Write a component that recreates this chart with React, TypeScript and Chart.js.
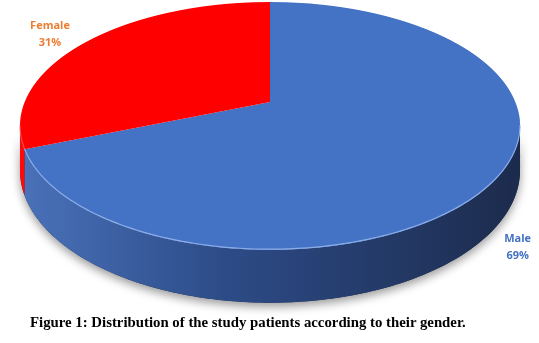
import React, { useEffect, useRef } from 'react';
import { Chart, registerables } from 'chart.js';

Chart.register(...registerables);

const categories = ['Male', 'Female'];
const percentages = [69, 31];
const sliceColors = ['#4472C4', '#FF0000'];
const sideStops = [
  ['#4a72ba', '#2d4c88', '#1c2b4c'],
  ['#ff0a0a', '#ee0000', '#c80000'],
];
const edgeColors = ['rgba(150,182,238,0.85)', 'rgba(255,110,110,0.6)'];
const labelColors = ['#4472C4', '#ED7D31'];
const labelOffsets = [
  [20, 22],
  [-37, -7],
];
const caption = 'Figure 1: Distribution of the study patients according to their gender.';

const W = 539;
const H = 343;

// perspective projection of the pie's top face
const CX = 270;
const CY = 102;
const PA = 245.3;
const PB = 119.35;
const PK = 0.1935;
const D0 = 42.5;

const wOf = (v: number) => 1 - PK * v;
const proj = (u: number, v: number): [number, number] => {
  const w = wOf(v);
  return [CX + (PA * u) / w, CY + (PB * v) / w];
};
const invV = (y: number) => {
  const t = y - CY;
  return t / (PB + PK * t);
};

const pie3d = {
  id: 'pie3d',
  beforeDatasetsDraw(chart: any) {
    const ctx = chart.ctx as CanvasRenderingContext2D;
    const meta = chart.getDatasetMeta(0);
    const arcs = meta.data as any[];
    if (!arcs.length) return false;
    const { x: px, y: py, outerRadius: r } = arcs[0];

    const th0 = Math.asin(PK);
    const th1 = Math.PI - th0;
    const sidePath = (lo: number, hi: number) => {
      const n = Math.max(2, Math.ceil(((hi - lo) * 180) / Math.PI));
      ctx.beginPath();
      for (let i = 0; i <= n; i++) {
        const t = lo + ((hi - lo) * i) / n;
        const [sx, sy] = proj(Math.cos(t), Math.sin(t));
        if (i === 0) ctx.moveTo(sx, sy);
        else ctx.lineTo(sx, sy);
      }
      for (let i = n; i >= 0; i--) {
        const t = lo + ((hi - lo) * i) / n;
        const v = Math.sin(t);
        const [sx, sy] = proj(Math.cos(t), v);
        ctx.lineTo(sx, sy + D0 / wOf(v));
      }
      ctx.closePath();
    };
    const pieces = (s: number, e: number) => {
      const out: [number, number][] = [];
      for (let k = -1; k <= 2; k++) {
        const lo = Math.max(s, 2 * Math.PI * k + th0);
        const hi = Math.min(e, 2 * Math.PI * k + th1);
        if (hi > lo) out.push([lo, hi]);
      }
      return out;
    };

    ctx.save();
    ctx.setTransform(1, 0, 0, 1, 0, 0);

    // soft shadow
    ctx.save();
    ctx.shadowColor = 'rgba(0,0,0,0.4)';
    ctx.shadowBlur = 10;
    ctx.shadowOffsetY = 4;
    ctx.fillStyle = '#1c2b4c';
    sidePath(th0, th1);
    ctx.fill();
    ctx.restore();

    // sides
    arcs.forEach((arc: any, i: number) => {
      const g = ctx.createLinearGradient(CX - 250, 0, CX + 250, 0);
      g.addColorStop(0, sideStops[i][0]);
      g.addColorStop(0.4, sideStops[i][1]);
      g.addColorStop(1, sideStops[i][2]);
      pieces(arc.startAngle, arc.endAngle).forEach(([lo, hi]) => {
        ctx.fillStyle = g;
        sidePath(lo, hi);
        ctx.fill();
      });
    });

    // top face, drawn by the library row by row with a perspective mapping
    const yTop = Math.floor(CY - PB / (1 + PK)) - 1;
    const yBot = Math.ceil(CY + PB / (1 - PK)) + 1;
    for (let ya = yTop; ya < yBot; ya++) {
      const yb = ya + 1;
      const va = invV(ya);
      const vb = invV(yb);
      const vm = (va + vb) / 2;
      const a = PA / (r * wOf(vm));
      const d = (yb - ya) / (r * (vb - va));
      ctx.save();
      ctx.setTransform(1, 0, 0, 1, 0, 0);
      ctx.beginPath();
      ctx.rect(0, ya, W, 1);
      ctx.clip();
      ctx.setTransform(a, 0, 0, d, CX - px * a, ya - (py + r * va) * d);
      meta.controller.draw();
      ctx.restore();
    }

    // front edge highlight
    ctx.lineWidth = 1.2;
    arcs.forEach((arc: any, i: number) => {
      pieces(arc.startAngle, arc.endAngle).forEach(([lo, hi]) => {
        const n = Math.max(2, Math.ceil(((hi - lo) * 180) / Math.PI));
        ctx.beginPath();
        for (let j = 0; j <= n; j++) {
          const t = lo + ((hi - lo) * j) / n;
          const [sx, sy] = proj(Math.cos(t), Math.sin(t));
          if (j === 0) ctx.moveTo(sx, sy - 0.8);
          else ctx.lineTo(sx, sy - 0.8);
        }
        ctx.strokeStyle = edgeColors[i];
        ctx.stroke();
      });
    });
    ctx.restore();
    return false;
  },
  afterDraw(chart: any) {
    const ctx = chart.ctx as CanvasRenderingContext2D;
    const arcs = chart.getDatasetMeta(0).data as any[];
    if (!arcs.length) return;
    ctx.save();
    ctx.font = 'bold 11px "Open Sans", sans-serif';
    ctx.textAlign = 'center';
    ctx.textBaseline = 'middle';
    arcs.forEach((arc: any, i: number) => {
      const mid = (arc.startAngle + arc.endAngle) / 2;
      const v = Math.sin(mid);
      const [ex, ey] = proj(Math.cos(mid), v);
      const lx = ex + labelOffsets[i][0];
      const ly = ey + (v > 0 ? D0 / wOf(v) : 0) + labelOffsets[i][1];
      ctx.fillStyle = labelColors[i];
      ctx.fillText(categories[i], lx, ly - 8.5);
      ctx.fillText(percentages[i] + '%', lx, ly + 8.5);
    });
    ctx.restore();
  },
};

export default function App() {
  const ref = useRef<HTMLCanvasElement>(null);
  useEffect(() => {
    if (!ref.current) return;
    const chart = new Chart(ref.current, {
      type: 'pie',
      data: {
        labels: categories,
        datasets: [
          {
            data: percentages,
            backgroundColor: sliceColors,
            borderWidth: 0,
            clip: false as any,
          },
        ],
      },
      options: {
        animation: false,
        responsive: false,
        events: [],
        rotation: 0,
        layout: { padding: 20 },
        plugins: {
          legend: { display: false },
          tooltip: { enabled: false },
          title: { display: false },
        },
      },
      plugins: [pie3d],
    });
    return () => chart.destroy();
  }, []);
  return (
    <div style={{ position: 'absolute', left: 0, top: 0, width: W, height: H, background: '#fff' }}>
      <canvas ref={ref} width={W} height={H} style={{ position: 'absolute', left: 0, top: 0 }} />
      <div
        style={{
          position: 'absolute',
          left: 30,
          top: 314,
          fontFamily: '"Liberation Serif", "Times New Roman", serif',
          fontWeight: 'bold',
          fontSize: 14.8,
          whiteSpace: 'nowrap',
          color: '#000',
        }}
      >
        {caption}
      </div>
    </div>
  );
}
